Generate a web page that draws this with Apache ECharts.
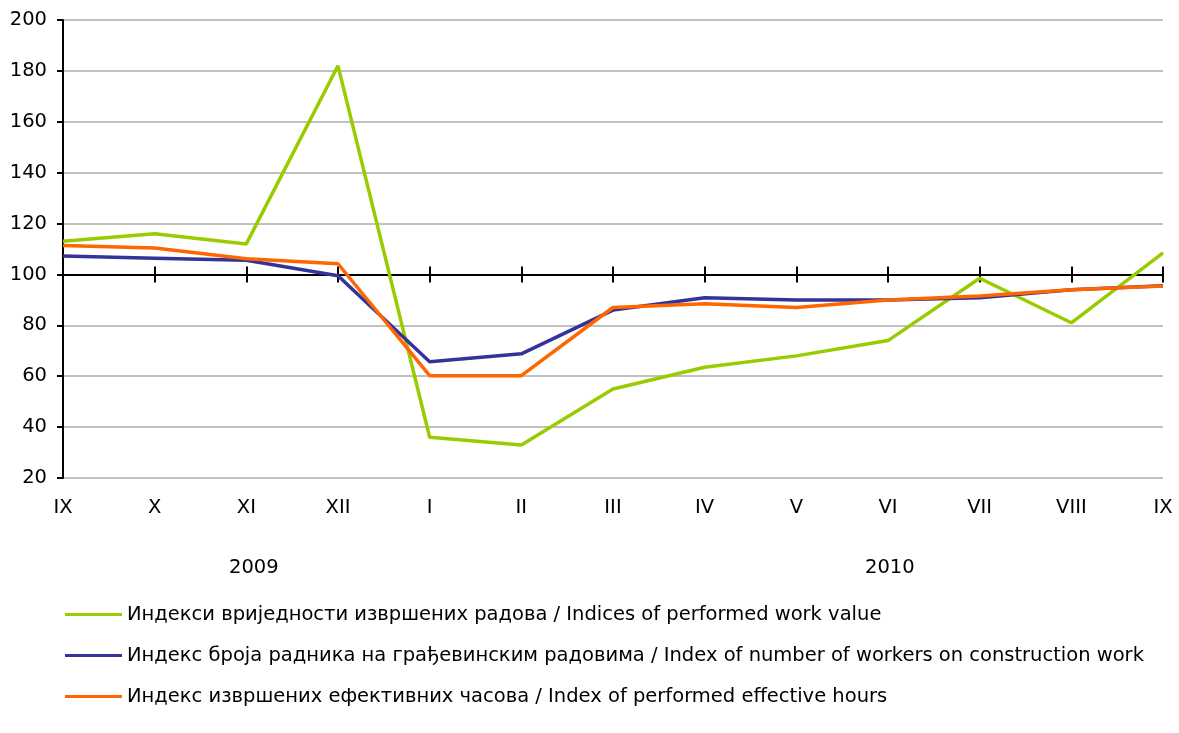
<!DOCTYPE html>
<html>
<head>
<meta charset="utf-8">
<script src="https://cdn.jsdelivr.net/npm/echarts@6/dist/echarts.min.js"></script>
<style>
  html, body { margin: 0; padding: 0; background: #fff; }
  #chart { width: 1179px; height: 733px; }
</style>
</head>
<body>
<div id="chart"></div>
<script>
// months, Sep 2009 - Sep 2010
const months = ['IX', 'X', 'XI', 'XII', 'I', 'II', 'III', 'IV', 'V', 'VI', 'VII', 'VIII', 'IX'];
const years = ['2009', '2010'];

const workValue = [113, 116, 112, 182, 36, 33, 55, 63.5, 68, 74, 98.5, 81, 108.5];
const workers = [107.2, 106.4, 105.6, 99.5, 65.7, 68.8, 86, 90.8, 90, 90, 90.8, 94, 95.6];
const hours = [111.4, 110.4, 106.2, 104.2, 60.2, 60.2, 87, 88.5, 87, 90, 91.5, 94, 95.5];

const seriesNames = [
  'Индекси вриједности извршених радова / Indices of performed work value',
  'Индекс броја радника на грађевинским радовима / Index of number of workers on construction work',
  'Индекс извршених ефективних часова / Index of performed effective hours'
];
const colors = ['#99cc00', '#333399', '#ff6600'];

const yMin = 20, yMax = 200, base = 100;
const gridTop = 20, gridBottom = 255, chartH = 733;
const gridH = chartH - gridTop - gridBottom;
// shift the category axis line up to the 100 level
const baseOffset = -gridH * (base - yMin) / (yMax - yMin);

const font = 'Tahoma, "DejaVu Sans", sans-serif';
const fs = 19.5;

let chart = echarts.init(document.getElementById('chart'));

const catAxis = (extra) => Object.assign({
  type: 'category',
  data: months,
  boundaryGap: false,
  position: 'bottom',
  axisLine: { show: false },
  axisTick: { show: false },
  axisLabel: { show: false },
  splitLine: { show: false }
}, extra);

chart.setOption({
  animation: false,
  color: colors,
  textStyle: { fontFamily: font },
  grid: { left: 63, right: 16, top: gridTop, bottom: gridBottom },
  xAxis: [
    catAxis({
      offset: baseOffset,
      axisLine: { show: true, onZero: false, lineStyle: { color: '#000', width: 2 } },
      axisTick: { show: true, length: 8, lineStyle: { color: '#000', width: 2 } }
    }),
    catAxis({
      offset: baseOffset,
      axisTick: { show: true, inside: true, length: 8, lineStyle: { color: '#000', width: 2 } }
    }),
    catAxis({
      axisLabel: { show: true, color: '#000', fontSize: fs, fontFamily: font, margin: 20 }
    })
  ],
  yAxis: {
    type: 'value',
    min: yMin,
    max: yMax,
    interval: 20,
    axisLine: { show: true, lineStyle: { color: '#000', width: 2 } },
    axisTick: { show: true, length: 6, lineStyle: { color: '#000', width: 2 } },
    axisLabel: { color: '#000', fontSize: fs, fontFamily: font, margin: 16 },
    splitLine: { lineStyle: { color: '#c0c0c0', width: 2 } }
  },
  legend: {
    orient: 'vertical',
    left: 60,
    top: 599,
    icon: 'rect',
    itemWidth: 57,
    itemHeight: 3,
    itemGap: 20,
    textStyle: { color: '#000', fontSize: fs, fontFamily: font, lineHeight: 21 },
    data: seriesNames
  },
  graphic: [
    { type: 'text', left: 254 - 25, top: 558, style: { text: years[0], fill: '#000', font: fs + 'px ' + font } },
    { type: 'text', left: 890 - 25, top: 558, style: { text: years[1], fill: '#000', font: fs + 'px ' + font } }
  ],
  series: [workValue, workers, hours].map((d, i) => ({
    name: seriesNames[i],
    type: 'line',
    xAxisIndex: 2,
    data: d,
    symbol: 'none',
    lineStyle: { width: 3.5, color: colors[i] },
    z: 3 + i
  }))
});
</script>
</body>
</html>
